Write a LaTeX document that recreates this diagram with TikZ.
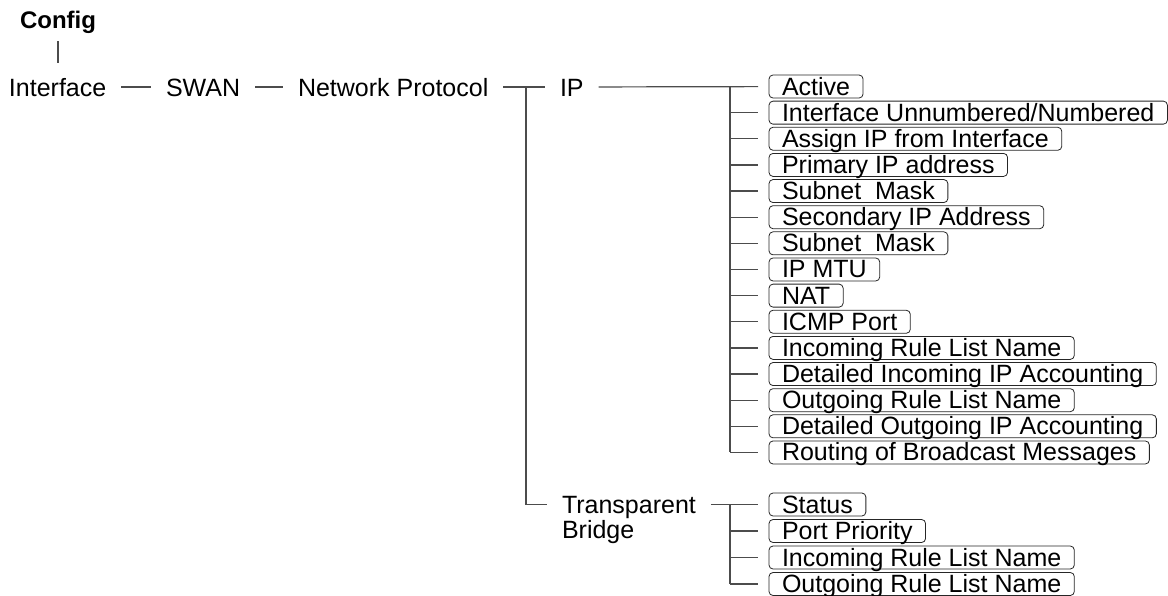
\documentclass[tikz,border=0pt]{standalone}
\usepackage{fontspec}
\setmainfont{Liberation Sans}
\usetikzlibrary{positioning}
\tikzset{
txt/.style={
  font=\fontsize{12.5}{15}\selectfont,
  inner xsep=7.5pt,
  inner ysep=0pt,
  outer sep=0pt,
  text height=9pt,
  text depth=0pt,
  anchor=west
  },
item/.style={
  draw=black!85,
  rounded corners=2pt,
  font=\fontsize{12.5}{15}\selectfont,
  inner xsep=6.5pt,
  inner ysep=0pt,
  outer sep=0pt,
  text height=10pt,
  text depth=1.5pt,
  anchor=west
  },
link/.style={draw=black!70, line width=0.6pt},
stub/.style={link, shorten >=5.5pt}
}

\begin{document}
\begin{tikzpicture}[x=0.5pt,y=-0.5pt]
\useasboundingbox (0,0) rectangle (1168,595);

% main path
\node[txt,font=\fontsize{12}{14}\selectfont\bfseries,anchor=center] (config) at (58,19) {Config};
\node[txt] (iface) at (-6,87) {Interface};
\node[txt] (swan) at (151,87) {SWAN};
\node[txt] (netp) at (283,87) {Network Protocol};
\coordinate (npbus) at (526,87);
\node[txt] (ip) at (545,87) {IP};
\coordinate (ipbus) at (730,87);
\node[txt] (tb) at (547,504.5) {Transparent};
\node[txt, below=3.25pt of tb.south west, anchor=north west] (tb2) {Bridge};
\coordinate (tbbus) at (730,504.5);

% IP settings
\node[item] (ip1) at (769,86.5) {Active};
\node[item, below=1.57pt of ip1.south west, anchor=north west] (ip2) {Interface Unnumbered/Numbered};
\node[item, below=1.57pt of ip2.south west, anchor=north west] (ip3) {Assign IP from Interface};
\node[item, below=1.57pt of ip3.south west, anchor=north west] (ip4) {Primary IP address};
\node[item, below=1.57pt of ip4.south west, anchor=north west] (ip5) {Subnet\ \ Mask};
\node[item, below=1.57pt of ip5.south west, anchor=north west] (ip6) {Secondary IP Address};
\node[item, below=1.57pt of ip6.south west, anchor=north west] (ip7) {Subnet\ \ Mask};
\node[item, below=1.57pt of ip7.south west, anchor=north west] (ip8) {IP MTU};
\node[item, below=1.57pt of ip8.south west, anchor=north west] (ip9) {NAT};
\node[item, below=1.57pt of ip9.south west, anchor=north west] (ip10) {ICMP Port};
\node[item, below=1.57pt of ip10.south west, anchor=north west] (ip11) {Incoming Rule List Name};
\node[item, below=1.57pt of ip11.south west, anchor=north west] (ip12) {Detailed Incoming IP Accounting};
\node[item, below=1.57pt of ip12.south west, anchor=north west] (ip13) {Outgoing Rule List Name};
\node[item, below=1.57pt of ip13.south west, anchor=north west] (ip14) {Detailed Outgoing IP Accounting};
\node[item, below=1.57pt of ip14.south west, anchor=north west] (ip15) {Routing of Broadcast Messages};

% bridge settings
\node[item] (br1) at (769,504.5) {Status};
\node[item, below=1.75pt of br1.south west, anchor=north west] (br2) {Port Priority};
\node[item, below=1.75pt of br2.south west, anchor=north west] (br3) {Incoming Rule List Name};
\node[item, below=1.75pt of br3.south west, anchor=north west] (br4) {Outgoing Rule List Name};

% connectors
\draw[link, shorten <=6.5pt, shorten >=7.5pt] (config.south) -- (config.south |- iface.north);
\draw[link] (iface) -- (swan);
\draw[link] (swan) -- (netp);
\draw[link] (netp) -- (ip);
\draw[link] (npbus) |- (tb);

\draw[stub] (ip) -- (ip1);
\draw[link] (ipbus) -- (ipbus |- ip15.west);
\draw[stub] (ipbus |- ip2.west) -- (ip2);
\draw[stub] (ipbus |- ip3.west) -- (ip3);
\draw[stub] (ipbus |- ip4.west) -- (ip4);
\draw[stub] (ipbus |- ip5.west) -- (ip5);
\draw[stub] (ipbus |- ip6.west) -- (ip6);
\draw[stub] (ipbus |- ip7.west) -- (ip7);
\draw[stub] (ipbus |- ip8.west) -- (ip8);
\draw[stub] (ipbus |- ip9.west) -- (ip9);
\draw[stub] (ipbus |- ip10.west) -- (ip10);
\draw[stub] (ipbus |- ip11.west) -- (ip11);
\draw[stub] (ipbus |- ip12.west) -- (ip12);
\draw[stub] (ipbus |- ip13.west) -- (ip13);
\draw[stub] (ipbus |- ip14.west) -- (ip14);
\draw[stub] (ipbus |- ip15.west) -- (ip15);

\draw[stub] (tb) -- (br1);
\draw[link] (tbbus) -- (tbbus |- br4.west);
\draw[stub] (tbbus |- br2.west) -- (br2);
\draw[stub] (tbbus |- br3.west) -- (br3);
\draw[stub] (tbbus |- br4.west) -- (br4);

\end{tikzpicture}
\end{document}
